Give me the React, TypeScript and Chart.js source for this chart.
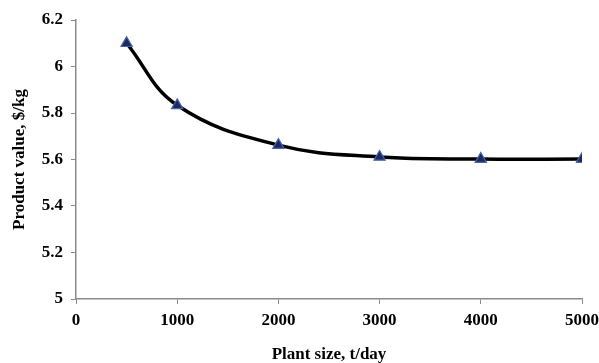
import React, { useEffect, useRef } from "react";
import { Chart, registerables } from "chart.js";

Chart.register(...registerables);

const plantSizes = [500, 1000, 2000, 3000, 4000, 5000];
const productValues = [6.1, 5.833, 5.662, 5.611, 5.602, 5.602];
const xTicks = [0, 1000, 2000, 3000, 4000, 5000];
const yTicks = [5, 5.2, 5.4, 5.6, 5.8, 6, 6.2];

const FONT = "'Liberation Serif', 'Times New Roman', serif";

export default function App() {
  const ref = useRef<HTMLCanvasElement>(null);
  useEffect(() => {
    document.body.style.margin = "0";
    const ctx = ref.current!.getContext("2d")!;
    const chart = new Chart(ctx, {
      type: "scatter",
      data: {
        datasets: [
          {
            data: plantSizes.map((x, i) => ({ x, y: productValues[i] })),
            showLine: true,
            borderColor: "#000000",
            borderWidth: 3.5,
            tension: 0.4,
            pointStyle: "triangle",
            pointRadius: 6.5,
            pointBackgroundColor: "#1c2a5e",
            pointBorderColor: "#4a64b0",
            pointBorderWidth: 1.2,
          },
        ],
      },
      options: {
        animation: false,
        responsive: false,
        layout: { padding: { top: 20, right: 17, left: 0, bottom: 0 } },
        plugins: { legend: { display: false }, tooltip: { enabled: false } },
        scales: {
          x: {
            type: "linear",
            min: 0,
            max: 5000,
            afterBuildTicks: (s: any) => {
              s.ticks = xTicks.map((v) => ({ value: v }));
            },
            afterFit: (s: any) => {
              s.height = 64;
              s.paddingLeft = 0;
              s.paddingRight = 0;
            },
            grid: {
              drawOnChartArea: false,
              drawTicks: true,
              tickLength: 5,
              color: "#8a8a8a",
            },
            border: { color: "#8a8a8a", width: 1.5 },
            ticks: {
              color: "#000",
              padding: 6,
              font: { family: FONT, size: 17, weight: "bold" },
              callback: (v: any) => String(v),
            },
            title: {
              display: true,
              text: "Plant size, t/day",
              color: "#000",
              padding: { top: 0, bottom: 0 },
              font: { family: FONT, size: 17, weight: "bold", lineHeight: 1 },
            },
          },
          y: {
            min: 5,
            max: 6.2,
            afterBuildTicks: (s: any) => {
              s.ticks = yTicks.map((v) => ({ value: v }));
            },
            afterFit: (s: any) => {
              s.width = 76;
              s.paddingTop = 0;
              s.paddingBottom = 0;
            },
            grid: {
              drawOnChartArea: false,
              drawTicks: true,
              tickLength: 5,
              color: "#8a8a8a",
            },
            border: { color: "#8a8a8a", width: 1.5 },
            ticks: {
              color: "#000",
              padding: 8,
              font: { family: FONT, size: 17, weight: "bold" },
              callback: (v: any) => String(Math.round(Number(v) * 10) / 10),
            },
            title: {
              display: true,
              text: "Product value, $/kg",
              color: "#000",
              padding: { top: 11, bottom: 0 },
              font: { family: FONT, size: 17, weight: "bold", lineHeight: 1 },
            },
          },
        },
      },
    });
    return () => chart.destroy();
  }, []);
  return <canvas ref={ref} width={599} height={363} style={{ display: "block" }} />;
}
